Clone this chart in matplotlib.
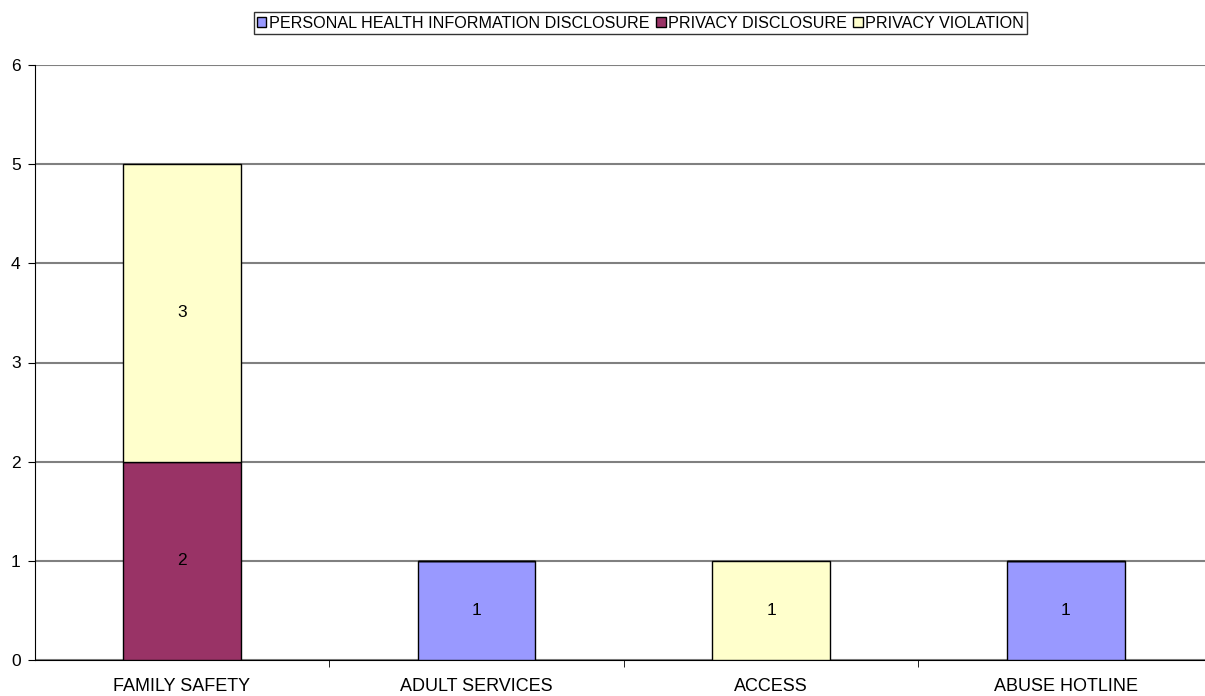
import numpy as np
import matplotlib.pyplot as plt
from matplotlib.patches import Patch

plt.rcParams['font.family'] = ['Liberation Sans', 'DejaVu Sans']

categories = ['FAMILY SAFETY', 'ADULT SERVICES', 'ACCESS', 'ABUSE HOTLINE']
series_names = ['PERSONAL HEALTH INFORMATION DISCLOSURE', 'PRIVACY DISCLOSURE', 'PRIVACY VIOLATION']
phi = [0, 1, 0, 1]
privacy_disclosure = [2, 0, 0, 0]
privacy_violation = [3, 0, 1, 0]
colors = ['#9999FF', '#993366', '#FFFFCC']

W, H = 1205, 696
fig = plt.figure(figsize=(W / 100, H / 100), dpi=100)
left, right, top, bottom = 34.5, 1213, 65, 660
ax = fig.add_axes([left / W, (H - bottom) / H, (right - left) / W, (bottom - top) / H])

x = np.arange(len(categories))
base = np.zeros(len(categories))
for vals, name, col in zip([phi, privacy_disclosure, privacy_violation], series_names, colors):
    vals = np.array(vals, dtype=float)
    bars = ax.bar(x, vals, width=0.4, bottom=base, color=col, edgecolor='black', linewidth=1.0, zorder=3)
    for b, v, b0 in zip(bars, vals, base):
        if v > 0:
            ax.text(b.get_x() + b.get_width() / 2, b0 + v / 2, f'{int(v)}',
                    ha='center', va='center', fontsize=12.5, zorder=4)
    base += vals

ax.set_xlim(-0.5, len(categories) - 0.5)
ax.set_ylim(0, 6)
ax.set_yticks(range(7))
ax.yaxis.grid(True, color='#808080', linewidth=1.5, zorder=0)
ax.set_axisbelow(True)

ax.set_xticks(x)
ax.set_xticklabels(categories, fontsize=13)
ax.tick_params(axis='x', length=0, pad=13)
ax.set_xticks(np.arange(0.5, len(categories) - 0.5, 1), minor=True)
ax.tick_params(axis='x', which='minor', length=5, direction='out', color='black')
ax.tick_params(axis='y', length=5, direction='out', labelsize=12.5, pad=5, color='black')

for s in ['top', 'right']:
    ax.spines[s].set_visible(False)
ax.spines['left'].set_color('black')
ax.spines['bottom'].set_color('black')

handles = [Patch(facecolor=c, edgecolor='black', linewidth=1.0) for c in colors]
leg = fig.legend(handles, series_names, loc='center', bbox_to_anchor=(640.5 / W, 1 - 23 / H),
                 ncol=3, fontsize=11.6, frameon=True, fancybox=False, shadow=False,
                 handlelength=0.6, handleheight=0.6, handletextpad=0.15, columnspacing=0.4,
                 borderpad=0.2, borderaxespad=0)
leg.get_frame().set_edgecolor('black')
leg.get_frame().set_linewidth(1.0)

fig.savefig('out.png', dpi=100)
